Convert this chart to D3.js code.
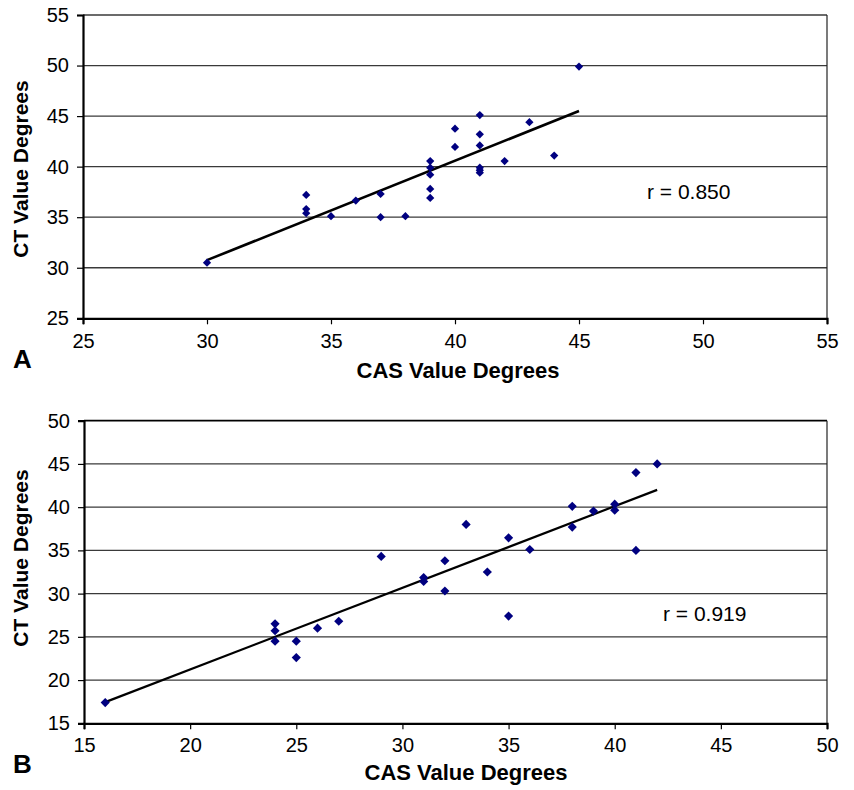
<!DOCTYPE html>
<html>
<head>
<meta charset="utf-8">
<script src="https://cdn.jsdelivr.net/npm/d3@7"></script>
<style>
  html, body { margin: 0; padding: 0; background: #fff; }
  svg { display: block; font-family: "Liberation Sans", Arial, Helvetica, sans-serif; }
</style>
</head>
<body>
<svg id="chart" width="854" height="790"></svg>
<script>
// ---- Panel A data ----
const casA = [30, 34, 34, 34, 35, 36, 37, 37, 38, 39, 39, 39, 39, 39, 40, 40, 41, 41, 41, 41, 41, 41, 42, 43, 44, 45];
const ctA  = [30.5, 37.2, 35.8, 35.4, 35.1, 36.65, 37.3, 35.0, 35.1, 40.55, 39.9, 39.2, 37.8, 36.9, 43.75, 41.95, 45.1, 43.2, 42.1, 39.9, 39.65, 39.4, 40.55, 44.4, 41.1, 49.9];
const trendAx = [30, 45];
const trendAy = [30.75, 45.5];
const ticksA = [25, 30, 35, 40, 45, 50, 55];
const rLabelA = "r = 0.850";

// ---- Panel B data ----
const casB = [16, 24, 24, 24, 25, 25, 26, 27, 29, 31, 31, 32, 32, 33, 34, 35, 35, 36, 38, 38, 39, 40, 40, 41, 41, 42];
const ctB  = [17.4, 26.5, 25.7, 24.5, 24.5, 22.6, 26.0, 26.8, 34.3, 31.85, 31.4, 33.8, 30.3, 38.0, 32.5, 36.45, 27.4, 35.1, 40.1, 37.7, 39.55, 40.35, 39.65, 44.0, 35.0, 45.0];
const trendBx = [16, 42];
const trendBy = [17.45, 42.0];
const ticksBx = [15, 20, 25, 30, 35, 40, 45, 50];
const ticksBy = [15, 20, 25, 30, 35, 40, 45, 50];
const rLabelB = "r = 0.919";

const xLabel = "CAS Value Degrees";
const yLabel = "CT Value Degrees";

const svg = d3.select("#chart");

function panel(cfg) {
  const g = svg.append("g");
  const x = d3.scaleLinear().domain(cfg.xDomain).range([cfg.left, cfg.right]);
  const y = d3.scaleLinear().domain(cfg.yDomain).range([cfg.bottom, cfg.top]);

  // gridlines
  g.append("g").selectAll("line").data(cfg.yTicks.filter(t => t !== cfg.yDomain[0]))
    .join("line")
    .attr("x1", cfg.left).attr("x2", cfg.right)
    .attr("y1", d => y(d)).attr("y2", d => y(d))
    .attr("stroke", d => d === cfg.yDomain[1] ? cfg.topColor : "#3a3a3a")
    .attr("stroke-width", d => d === cfg.yDomain[1] ? cfg.topWidth : 1.3);

  // right border
  g.append("line")
    .attr("x1", cfg.right).attr("x2", cfg.right)
    .attr("y1", cfg.top).attr("y2", cfg.bottom)
    .attr("stroke", "#222").attr("stroke-width", 1.2);

  // axes
  const xAxis = d3.axisBottom(x).tickValues(cfg.xTicks).tickSize(6).tickPadding(cfg.xPad).tickFormat(d3.format("d"));
  const yAxis = d3.axisLeft(y).tickValues(cfg.yTicks).tickSize(6).tickPadding(8).tickFormat(d3.format("d"));

  const gx = g.append("g").attr("transform", `translate(0,${cfg.bottom})`).call(xAxis);
  const gy = g.append("g").attr("transform", `translate(${cfg.left},0)`).call(yAxis);
  [gx, gy].forEach(a => {
    a.select(".domain").attr("stroke", "#000").attr("stroke-width", 2.2);
    a.selectAll(".tick line").attr("stroke", "#000").attr("stroke-width", 1.2);
    a.selectAll(".tick text").attr("fill", "#000").attr("font-size", 20)
      .attr("font-family", "'Liberation Sans', Arial, sans-serif");
  });

  // trend line
  const line = d3.line().x(d => x(d[0])).y(d => y(d[1]));
  g.append("path")
    .datum(cfg.trendX.map((v, i) => [v, cfg.trendY[i]]))
    .attr("d", line)
    .attr("fill", "none")
    .attr("stroke", "#000")
    .attr("stroke-width", cfg.trendWidth);

  // points
  const sym = d3.symbol(d3.symbolSquare, cfg.markerSize);
  g.append("g").selectAll("path")
    .data(cfg.xs.map((v, i) => [v, cfg.ys[i]]))
    .join("path")
    .attr("d", sym)
    .attr("transform", d => `translate(${x(d[0])},${y(d[1])}) rotate(45)`)
    .attr("fill", "#000080");

  // r label
  g.append("text")
    .attr("x", cfg.rX).attr("y", cfg.rY)
    .attr("font-size", 21)
    .attr("fill", "#000")
    .text(cfg.rLabel);

  // axis titles
  g.append("text")
    .attr("x", cfg.xTitleX).attr("y", cfg.xTitleY)
    .attr("text-anchor", "middle")
    .attr("font-size", 22).attr("font-weight", "bold")
    .text(xLabel);

  g.append("text")
    .attr("transform", `translate(${cfg.yTitleX},${cfg.yTitleY}) rotate(-90)`)
    .attr("text-anchor", "middle")
    .attr("font-size", 21).attr("font-weight", "bold")
    .text(yLabel);

  // panel letter
  g.append("text")
    .attr("x", 13).attr("y", cfg.letterY)
    .attr("font-size", 26).attr("font-weight", "bold")
    .text(cfg.letter);
}

panel({
  xs: casA, ys: ctA, xDomain: [25, 55], yDomain: [25, 55],
  xTicks: ticksA, yTicks: ticksA,
  left: 83, right: 827, top: 15, bottom: 318.3,
  xPad: 10, trendX: trendAx, trendY: trendAy, trendWidth: 2.6,
  markerSize: 34, topColor: "#3a3a3a", topWidth: 1.3,
  rLabel: rLabelA, rX: 647, rY: 199,
  xTitleX: 458, xTitleY: 378, yTitleX: 28, yTitleY: 169,
  letter: "A", letterY: 368
});

panel({
  xs: casB, ys: ctB, xDomain: [15, 50], yDomain: [15, 50],
  xTicks: ticksBx, yTicks: ticksBy,
  left: 84, right: 827, top: 420.7, bottom: 723.3,
  xPad: 9, trendX: trendBx, trendY: trendBy, trendWidth: 2.2,
  markerSize: 42, topColor: "#000", topWidth: 1.8,
  rLabel: rLabelB, rX: 663, rY: 621,
  xTitleX: 466, xTitleY: 780, yTitleX: 28, yTitleY: 558,
  letter: "B", letterY: 773
});
</script>
</body>
</html>
